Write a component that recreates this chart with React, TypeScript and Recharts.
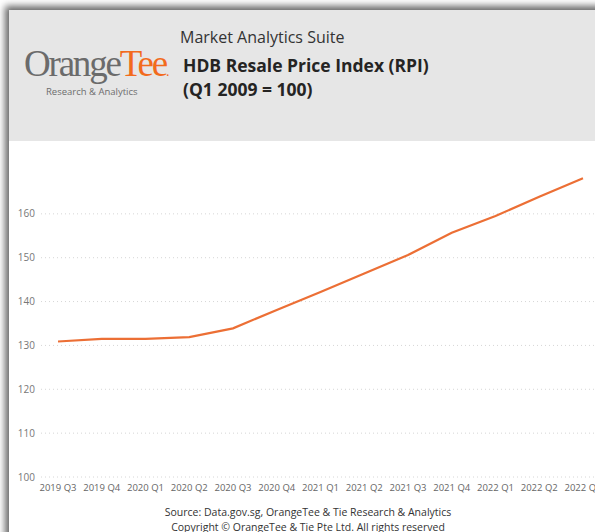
import { LineChart, Line, XAxis, YAxis, CartesianGrid } from "recharts";

const quarters = [
  "2019 Q3", "2019 Q4", "2020 Q1", "2020 Q2", "2020 Q3", "2020 Q4", "2021 Q1",
  "2021 Q2", "2021 Q3", "2021 Q4", "2022 Q1", "2022 Q2", "2022 Q3",
];
const rpiValues = [130.9, 131.5, 131.5, 131.9, 133.9, 138.1, 142.2, 146.4, 150.6, 155.7, 159.5, 163.9, 168.1];
const yTicks = [100, 110, 120, 130, 140, 150, 160];

const data = quarters.map((q, i) => ({ quarter: q, rpi: rpiValues[i] }));

const FONT = "'Segoe UI', 'Open Sans', 'Noto Sans', sans-serif";

export default function App() {
  return (
    <div style={{ position: "absolute", left: 0, top: 0, width: 595, height: 532, overflow: "hidden", background: "#fff", fontFamily: FONT }}>
      {/* panel with shadow */}
      <div
        style={{
          position: "absolute",
          left: 9,
          top: 10,
          width: 620,
          height: 540,
          background: "#fff",
          boxShadow: "-4px -4px 7px rgba(0,0,0,0.6)",
        }}
      />
      {/* header */}
      <div style={{ position: "absolute", left: 9, top: 10, width: 620, height: 131, background: "#e6e6e6" }} />
      <div
        style={{
          position: "absolute",
          left: 24,
          top: 42,
          fontFamily: "'Liberation Serif', 'DejaVu Serif', serif",
          fontSize: 37,
          lineHeight: "44px",
          letterSpacing: -2.2,
          color: "#6b6b6b",
          whiteSpace: "nowrap",
        }}
      >
        Orange<span style={{ color: "#f26b1d" }}>Tee</span>
        <span style={{ color: "#f26b1d", fontSize: 14 }}>.</span>
      </div>
      <div style={{ position: "absolute", left: 46, top: 85, fontSize: 9.5, lineHeight: "14px", color: "#6d6d6d", whiteSpace: "nowrap" }}>
        Research &amp; Analytics
      </div>
      <div style={{ position: "absolute", left: 180, top: 26, fontSize: 16, lineHeight: "22px", color: "#333", whiteSpace: "nowrap" }}>
        Market Analytics Suite
      </div>
      <div style={{ position: "absolute", left: 183, top: 53, fontSize: 17.5, lineHeight: "24px", fontWeight: 700, color: "#252423", whiteSpace: "nowrap" }}>
        HDB Resale Price Index (RPI)
        <br />
        (Q1 2009 = 100)
      </div>

      {/* chart */}
      <div style={{ position: "absolute", left: 0, top: 141 }}>
        <LineChart width={620} height={355} data={data} margin={{ top: 29, right: 15, bottom: 0, left: 0 }}>
          <CartesianGrid vertical={false} horizontalValues={yTicks} stroke="#d6d6d6" strokeDasharray="1 3" />
          <XAxis
            dataKey="quarter"
            interval={0}
            height={19}
            axisLine={false}
            tickLine={false}
            tickSize={0}
            tickMargin={7}
            padding={{ left: 17, right: 22 }}
            tick={{ fontSize: 9.5, fill: "#666", fontFamily: FONT }}
          />
          <YAxis
            width={41}
            domain={[100, 170]}
            ticks={yTicks}
            axisLine={false}
            tickLine={false}
            tickSize={0}
            tickMargin={6}
            tick={{ fontSize: 10, fill: "#777", fontFamily: FONT }}
          />
          <Line
            type="linear"
            dataKey="rpi"
            stroke="#ec6f35"
            strokeWidth={2.2}
            dot={false}
            activeDot={false}
            isAnimationActive={false}
          />
        </LineChart>
      </div>

      {/* footer */}
      <div style={{ position: "absolute", left: 9, top: 505, width: 598, textAlign: "center", fontSize: 10.5, lineHeight: "14.5px", color: "#333" }}>
        Source: Data.gov.sg, OrangeTee &amp; Tie Research &amp; Analytics
        <br />
        Copyright © OrangeTee &amp; Tie Pte Ltd. All rights reserved
      </div>
    </div>
  );
}
